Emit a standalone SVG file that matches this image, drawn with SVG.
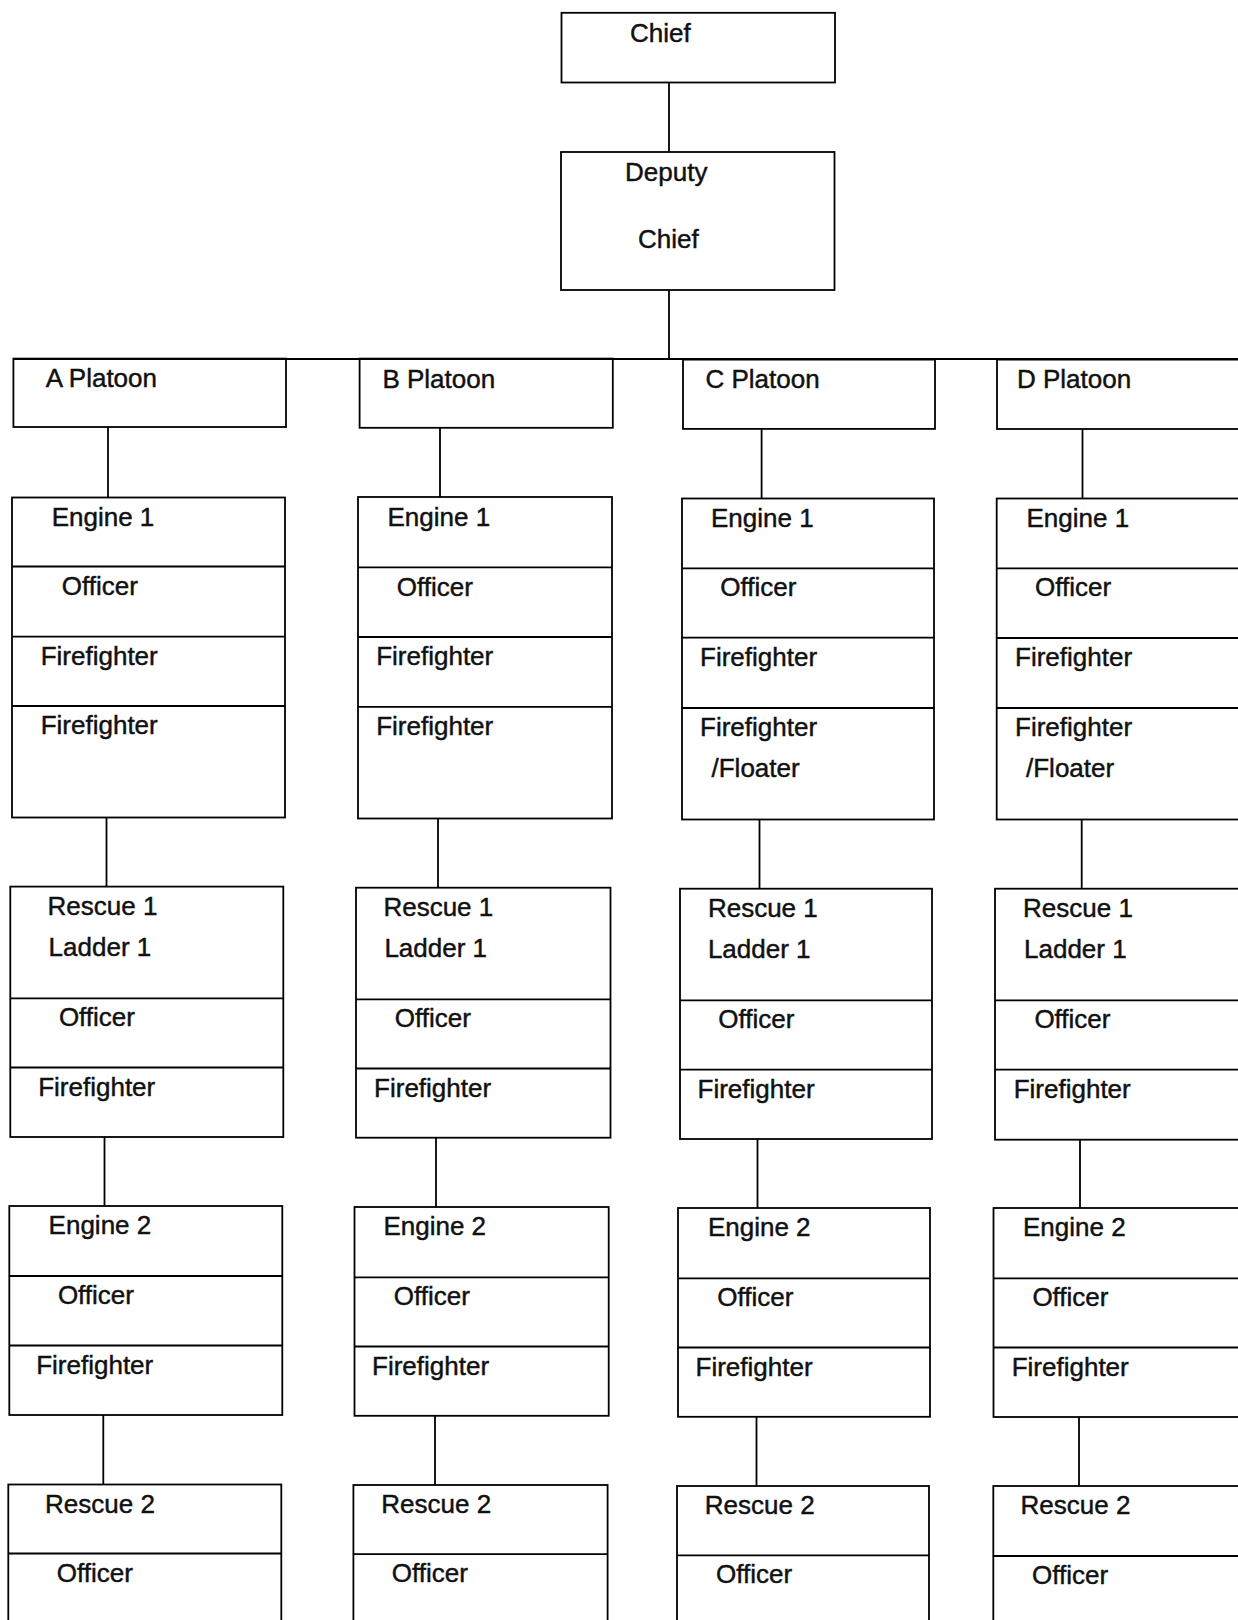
<svg xmlns="http://www.w3.org/2000/svg" width="1238" height="1620" viewBox="0 0 1238 1620">
<style>
rect,line{fill:none;stroke:#000;stroke-width:1.8}
text{font-family:"Liberation Sans",Arial,sans-serif;font-size:26px;fill:#111;stroke:#111;stroke-width:0.45}
</style>
<rect x="0" y="0" width="1238" height="1620" style="fill:#fff;stroke:none"/>
<g id="connectors">
<line x1="669" y1="82.5" x2="669" y2="152"/>
<line x1="669" y1="290" x2="669" y2="359"/>
<line x1="13.4" y1="359" x2="1238" y2="359"/>
<line x1="108" y1="427" x2="108" y2="497.5"/>
<line x1="106.5" y1="817.5" x2="106.5" y2="886.6"/>
<line x1="104.5" y1="1137" x2="104.5" y2="1206"/>
<line x1="103.3" y1="1415" x2="103.3" y2="1484.5"/>
<line x1="440" y1="427.8" x2="440" y2="497"/>
<line x1="438" y1="818.5" x2="438" y2="887.7"/>
<line x1="436" y1="1137.7" x2="436" y2="1207"/>
<line x1="435" y1="1415.8" x2="435" y2="1485"/>
<line x1="761.6" y1="428.9" x2="761.6" y2="498.5"/>
<line x1="759.5" y1="819.5" x2="759.5" y2="888.7"/>
<line x1="757.5" y1="1139" x2="757.5" y2="1208"/>
<line x1="756.5" y1="1416.8" x2="756.5" y2="1486"/>
<line x1="1082.5" y1="429" x2="1082.5" y2="498.5"/>
<line x1="1081.7" y1="819.5" x2="1081.7" y2="888.7"/>
<line x1="1080" y1="1139.7" x2="1080" y2="1208"/>
<line x1="1079" y1="1417" x2="1079" y2="1486"/>
</g>
<g id="chief"><rect x="561.5" y="12.8" width="273.5" height="69.7"/><text x="630" y="41.5">Chief</text></g>
<g id="deputy-chief"><rect x="561" y="152" width="273.5" height="138"/><text x="625" y="181">Deputy</text><text x="638" y="248">Chief</text></g>

<g id="platoon-a"><rect x="13.4" y="358.6" width="272.6" height="68.4"/><text x="45.7" y="387">A Platoon</text></g>
<g id="engine1-a"><rect x="12" y="497.5" width="273" height="320"/>
<line x1="12" y1="566.5" x2="285" y2="566.5"/><line x1="12" y1="636.6" x2="285" y2="636.6"/><line x1="12" y1="706" x2="285" y2="706"/>
<text x="51.7" y="525.7">Engine 1</text><text x="61.7" y="595">Officer</text><text x="40.7" y="665">Firefighter</text><text x="40.7" y="734.3">Firefighter</text></g>
<g id="rescue1-a"><rect x="10.3" y="886.6" width="273" height="250.4"/>
<line x1="10.3" y1="998.3" x2="283.3" y2="998.3"/><line x1="10.3" y1="1067.5" x2="283.3" y2="1067.5"/>
<text x="47.5" y="914.6">Rescue 1</text><text x="48.6" y="956">Ladder 1</text><text x="58.9" y="1026.3">Officer</text><text x="38.2" y="1095.5">Firefighter</text></g>
<g id="engine2-a"><rect x="9.3" y="1206" width="273" height="209"/>
<line x1="9.3" y1="1276" x2="282.3" y2="1276"/><line x1="9.3" y1="1345.5" x2="282.3" y2="1345.5"/>
<text x="48.6" y="1234">Engine 2</text><text x="57.9" y="1304">Officer</text><text x="36.2" y="1373.5">Firefighter</text></g>
<g id="rescue2-a"><rect x="8.3" y="1484.5" width="273" height="150"/>
<line x1="8.3" y1="1553.5" x2="281.3" y2="1553.5"/>
<text x="45" y="1512.5">Rescue 2</text><text x="56.8" y="1581.5">Officer</text></g>

<g id="platoon-b"><rect x="359.6" y="358.6" width="253.2" height="69.2"/><text x="382.4" y="387.5">B Platoon</text></g>
<g id="engine1-b"><rect x="358" y="497" width="254" height="321.5"/>
<line x1="358" y1="567.3" x2="612" y2="567.3"/><line x1="358" y1="637" x2="612" y2="637"/><line x1="358" y1="706.8" x2="612" y2="706.8"/>
<text x="387.5" y="525.5">Engine 1</text><text x="396.8" y="595.5">Officer</text><text x="376.2" y="665.2">Firefighter</text><text x="376.2" y="735">Firefighter</text></g>
<g id="rescue1-b"><rect x="356" y="887.7" width="254.5" height="250"/>
<line x1="356" y1="999.3" x2="610.5" y2="999.3"/><line x1="356" y1="1068.5" x2="610.5" y2="1068.5"/>
<text x="383.4" y="915.7">Rescue 1</text><text x="384.4" y="957">Ladder 1</text><text x="394.8" y="1027.3">Officer</text><text x="374.1" y="1096.5">Firefighter</text></g>
<g id="engine2-b"><rect x="354.5" y="1207" width="254.2" height="208.8"/>
<line x1="354.5" y1="1277.3" x2="608.7" y2="1277.3"/><line x1="354.5" y1="1346.5" x2="608.7" y2="1346.5"/>
<text x="383.4" y="1235">Engine 2</text><text x="393.7" y="1305.3">Officer</text><text x="372" y="1374.5">Firefighter</text></g>
<g id="rescue2-b"><rect x="353.4" y="1485" width="254.2" height="150"/>
<line x1="353.4" y1="1554.2" x2="607.6" y2="1554.2"/>
<text x="381.3" y="1513">Rescue 2</text><text x="391.7" y="1582.2">Officer</text></g>

<g id="platoon-c"><rect x="683" y="359.6" width="252" height="69.3"/><text x="705.5" y="388">C Platoon</text></g>
<g id="engine1-c"><rect x="682" y="498.5" width="252" height="321"/>
<line x1="682" y1="568.4" x2="934" y2="568.4"/><line x1="682" y1="637.6" x2="934" y2="637.6"/><line x1="682" y1="708" x2="934" y2="708"/>
<text x="711" y="526.5">Engine 1</text><text x="720.3" y="596.4">Officer</text><text x="700" y="665.6">Firefighter</text><text x="700" y="736">Firefighter</text><text x="711.5" y="776.5">/Floater</text></g>
<g id="rescue1-c"><rect x="680" y="888.7" width="252" height="250.3"/>
<line x1="680" y1="1000.3" x2="932" y2="1000.3"/><line x1="680" y1="1069.6" x2="932" y2="1069.6"/>
<text x="707.9" y="916.7">Rescue 1</text><text x="707.9" y="958">Ladder 1</text><text x="718.2" y="1028.3">Officer</text><text x="697.5" y="1097.6">Firefighter</text></g>
<g id="engine2-c"><rect x="678" y="1208" width="252" height="208.8"/>
<line x1="678" y1="1278.3" x2="930" y2="1278.3"/><line x1="678" y1="1347.5" x2="930" y2="1347.5"/>
<text x="707.9" y="1236">Engine 2</text><text x="717.2" y="1306.3">Officer</text><text x="695.5" y="1375.5">Firefighter</text></g>
<g id="rescue2-c"><rect x="677" y="1486" width="252" height="150"/>
<line x1="677" y1="1555.3" x2="929" y2="1555.3"/>
<text x="704.8" y="1514">Rescue 2</text><text x="716.1" y="1583.3">Officer</text></g>

<g id="platoon-d"><rect x="997" y="359.6" width="260" height="69.4"/><text x="1017" y="388">D Platoon</text></g>
<g id="engine1-d"><rect x="996.7" y="498.5" width="260" height="321"/>
<line x1="996.7" y1="568.4" x2="1256.7" y2="568.4"/><line x1="996.7" y1="638" x2="1256.7" y2="638"/><line x1="996.7" y1="708" x2="1256.7" y2="708"/>
<text x="1026.5" y="526.5">Engine 1</text><text x="1035" y="596.4">Officer</text><text x="1015" y="666">Firefighter</text><text x="1015" y="736">Firefighter</text><text x="1026" y="776.5">/Floater</text></g>
<g id="rescue1-d"><rect x="995" y="888.7" width="260" height="251"/>
<line x1="995" y1="1000.3" x2="1255" y2="1000.3"/><line x1="995" y1="1069.6" x2="1255" y2="1069.6"/>
<text x="1023" y="916.7">Rescue 1</text><text x="1024" y="958">Ladder 1</text><text x="1034.4" y="1028.3">Officer</text><text x="1013.7" y="1097.6">Firefighter</text></g>
<g id="engine2-d"><rect x="993.5" y="1208" width="260" height="209"/>
<line x1="993.5" y1="1278.3" x2="1253.5" y2="1278.3"/><line x1="993.5" y1="1347.5" x2="1253.5" y2="1347.5"/>
<text x="1023" y="1236">Engine 2</text><text x="1032.4" y="1306.3">Officer</text><text x="1011.7" y="1375.5">Firefighter</text></g>
<g id="rescue2-d"><rect x="993.3" y="1486" width="260" height="150"/>
<line x1="993.3" y1="1556" x2="1253.3" y2="1556"/>
<text x="1020.5" y="1514">Rescue 2</text><text x="1032" y="1584">Officer</text></g>
</svg>
